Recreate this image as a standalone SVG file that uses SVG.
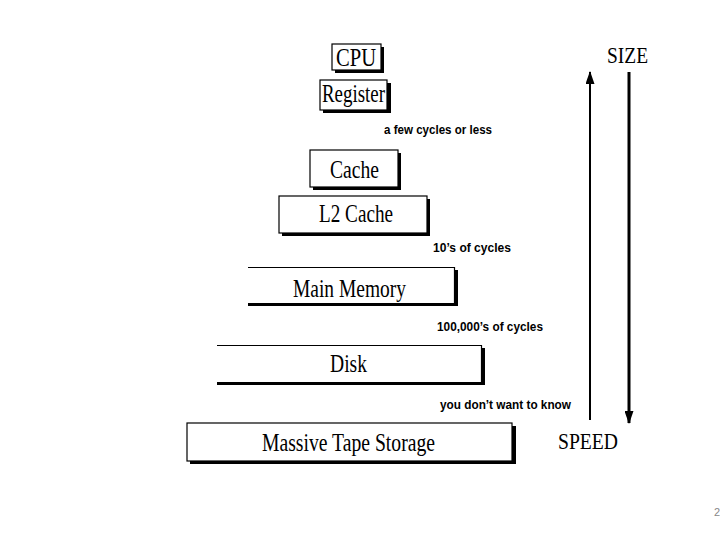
<svg xmlns="http://www.w3.org/2000/svg" width="720" height="540" viewBox="0 0 720 540">
<defs>
<style>
.box{fill:#fff;stroke:#000;stroke-width:1.2}
.sh{fill:#000}
.t{font-family:"Liberation Serif","Times New Roman",serif;font-size:25px;fill:#000}
.lb{font-family:"Liberation Sans",Arial,sans-serif;font-size:12.5px;fill:#000;font-weight:bold}
.ax{font-family:"Liberation Serif","Times New Roman",serif;font-size:24px;fill:#000}
.ln{fill:none;stroke:#000}
</style>
<marker id="ah" markerWidth="13" markerHeight="9" refX="12" refY="4.5" orient="auto" markerUnits="userSpaceOnUse" viewBox="0 0 13 9">
<path d="M0,0 L13,4.5 L0,9 Z" fill="#000"/>
</marker>
</defs>
<rect width="720" height="540" fill="#fff"/>
<g id="cpu">
<rect class="sh" x="335" y="47" width="49" height="26"/>
<rect class="box" x="332" y="44" width="49" height="26"/>
<text class="t" x="336" y="66" textLength="40" lengthAdjust="spacingAndGlyphs">CPU</text>
</g>
<g id="register">
<rect class="sh" x="323" y="83" width="68" height="30"/>
<rect class="box" x="320" y="80" width="67" height="30"/>
<text class="t" x="322" y="102" textLength="63" lengthAdjust="spacingAndGlyphs">Register</text>
</g>
<g id="cache">
<rect class="sh" x="313" y="153" width="88" height="37"/>
<rect class="box" x="310" y="150" width="88" height="37"/>
<text class="t" x="330" y="178" textLength="49" lengthAdjust="spacingAndGlyphs">Cache</text>
</g>
<g id="l2cache">
<rect class="sh" x="282" y="199" width="148" height="37"/>
<rect class="box" x="279" y="196" width="148" height="37"/>
<text class="t" x="319" y="222" textLength="74" lengthAdjust="spacingAndGlyphs">L2 Cache</text>
</g>
<g id="mainmemory">
<path class="sh" d="M248,306 H458 V270 H455 V303 H248 Z"/>
<path class="ln" stroke-width="1.2" d="M248,267.5 H454.5 V303.5 H248"/>
<text class="t" x="293" y="297" textLength="113" lengthAdjust="spacingAndGlyphs">Main Memory</text>
</g>
<g id="disk">
<path class="sh" d="M217,385 H485 V348 H482 V382 H217 Z"/>
<path class="ln" stroke-width="1.2" d="M217,345.5 H481.5 V382.5 H217"/>
<text class="t" x="330" y="372" textLength="37" lengthAdjust="spacingAndGlyphs">Disk</text>
</g>
<g id="tape">
<rect class="sh" x="190" y="426" width="326" height="38"/>
<rect class="box" x="187" y="423" width="325" height="38"/>
<text class="t" x="262" y="451" textLength="173" lengthAdjust="spacingAndGlyphs">Massive Tape Storage</text>
</g>
<g id="labels">
<text class="lb" x="384" y="134" textLength="108" lengthAdjust="spacingAndGlyphs">a few cycles or less</text>
<text class="lb" x="433" y="252" textLength="78" lengthAdjust="spacingAndGlyphs">10’s of cycles</text>
<text class="lb" x="437" y="331" textLength="106" lengthAdjust="spacingAndGlyphs">100,000’s of cycles</text>
<text class="lb" x="440" y="409" textLength="131" lengthAdjust="spacingAndGlyphs">you don’t want to know</text>
</g>
<g id="connectors">
<line x1="590" y1="420" x2="590" y2="72" stroke="#000" stroke-width="2" marker-end="url(#ah)"/>
<line x1="629" y1="72" x2="629" y2="423" stroke="#000" stroke-width="3" marker-end="url(#ah)"/>
</g>
<g id="axislabels">
<text class="ax" x="607" y="63" textLength="41" lengthAdjust="spacingAndGlyphs">SIZE</text>
<text class="ax" x="558" y="449" textLength="60" lengthAdjust="spacingAndGlyphs">SPEED</text>
</g>
<text x="714" y="516" font-family="Liberation Sans,Arial,sans-serif" font-size="11" fill="#888">2</text>
</svg>
